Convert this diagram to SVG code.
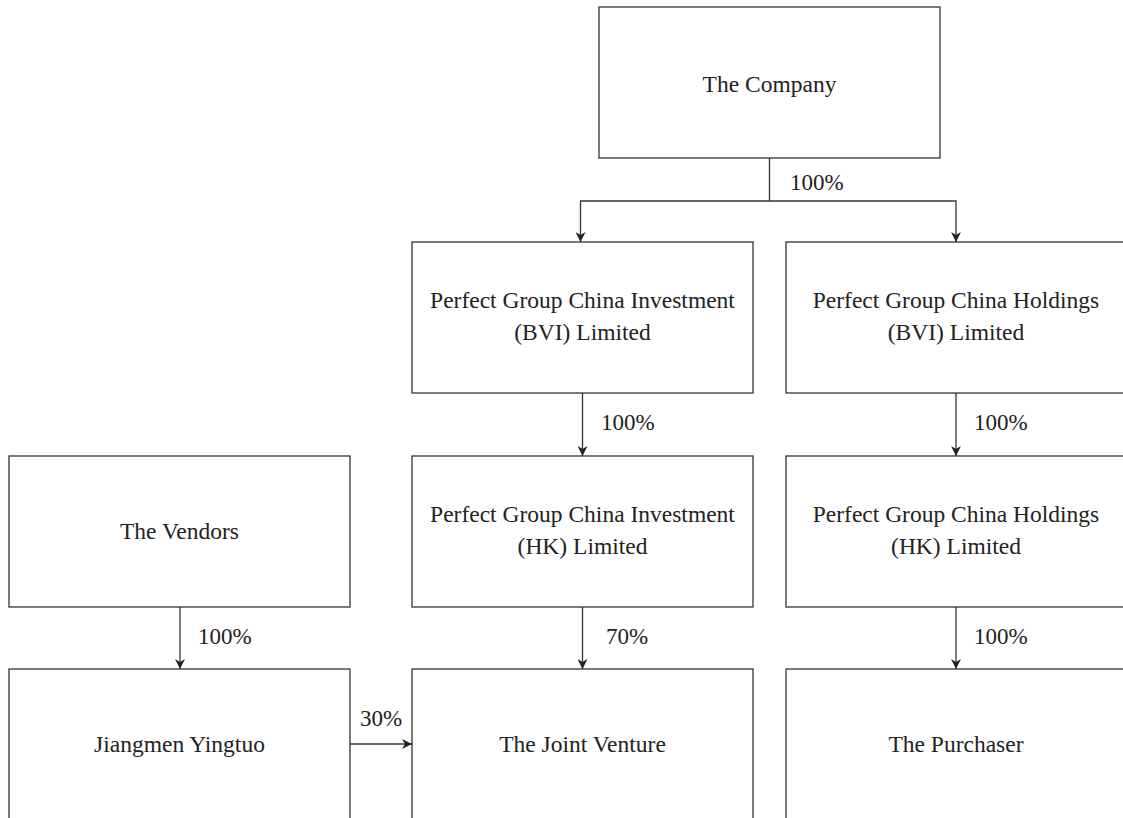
<svg xmlns="http://www.w3.org/2000/svg" width="1123" height="818" viewBox="0 0 1123 818">
<style>
.box{fill:#fff;stroke:#333;stroke-width:1.3}
.t{font-family:"Liberation Serif","Times New Roman",serif;font-size:23.5px;fill:#222;text-anchor:middle}
.l{font-family:"Liberation Serif","Times New Roman",serif;font-size:23px;fill:#222}
.c{fill:none;stroke:#333;stroke-width:1.3}
</style>
<defs>
<marker id="ah" viewBox="0 0 10 10" refX="10" refY="5" markerWidth="11" markerHeight="10" markerUnits="userSpaceOnUse" orient="auto">
<path d="M0,0 L10,5 L0,10 L3,5 Z" fill="#222"/>
</marker>
</defs>
<rect width="1123" height="818" fill="#fff"/>
<g id="connectors">
<path class="c" d="M769.5,158 V201 H580.5 V242" marker-end="url(#ah)"/>
<path class="c" d="M769.5,201 H956 V242" marker-end="url(#ah)"/>
<path class="c" d="M582.5,393 V456" marker-end="url(#ah)"/>
<path class="c" d="M956,393 V456" marker-end="url(#ah)"/>
<path class="c" d="M180,607 V669" marker-end="url(#ah)"/>
<path class="c" d="M582.5,607 V669" marker-end="url(#ah)"/>
<path class="c" d="M956,607 V669" marker-end="url(#ah)"/>
<path class="c" d="M350,744 H412" marker-end="url(#ah)"/>
<text class="l" x="790" y="190">100%</text>
<text class="l" x="601" y="430">100%</text>
<text class="l" x="974" y="430">100%</text>
<text class="l" x="198" y="644">100%</text>
<text class="l" x="606" y="644">70%</text>
<text class="l" x="974" y="644">100%</text>
<text class="l" x="360" y="726">30%</text>
</g>
<g id="company"><rect class="box" x="599" y="7" width="341" height="151"/><text class="t" x="769.5" y="92">The Company</text></g>
<g id="pgci-bvi"><rect class="box" x="412" y="242" width="341" height="151"/><text class="t" x="582.5" y="308">Perfect Group China Investment</text><text class="t" x="582.5" y="340">(BVI) Limited</text></g>
<g id="pgch-bvi"><rect class="box" x="786" y="242" width="341" height="151"/><text class="t" x="956" y="308">Perfect Group China Holdings</text><text class="t" x="956" y="340">(BVI) Limited</text></g>
<g id="vendors"><rect class="box" x="9" y="456" width="341" height="151"/><text class="t" x="179.5" y="539">The Vendors</text></g>
<g id="pgci-hk"><rect class="box" x="412" y="456" width="341" height="151"/><text class="t" x="582.5" y="522">Perfect Group China Investment</text><text class="t" x="582.5" y="554">(HK) Limited</text></g>
<g id="pgch-hk"><rect class="box" x="786" y="456" width="341" height="151"/><text class="t" x="956" y="522">Perfect Group China Holdings</text><text class="t" x="956" y="554">(HK) Limited</text></g>
<g id="jiangmen"><rect class="box" x="9" y="669" width="341" height="160"/><text class="t" x="179.5" y="752">Jiangmen Yingtuo</text></g>
<g id="jv"><rect class="box" x="412" y="669" width="341" height="160"/><text class="t" x="582.5" y="752">The Joint Venture</text></g>
<g id="purchaser"><rect class="box" x="786" y="669" width="341" height="160"/><text class="t" x="956" y="752">The Purchaser</text></g>
</svg>
